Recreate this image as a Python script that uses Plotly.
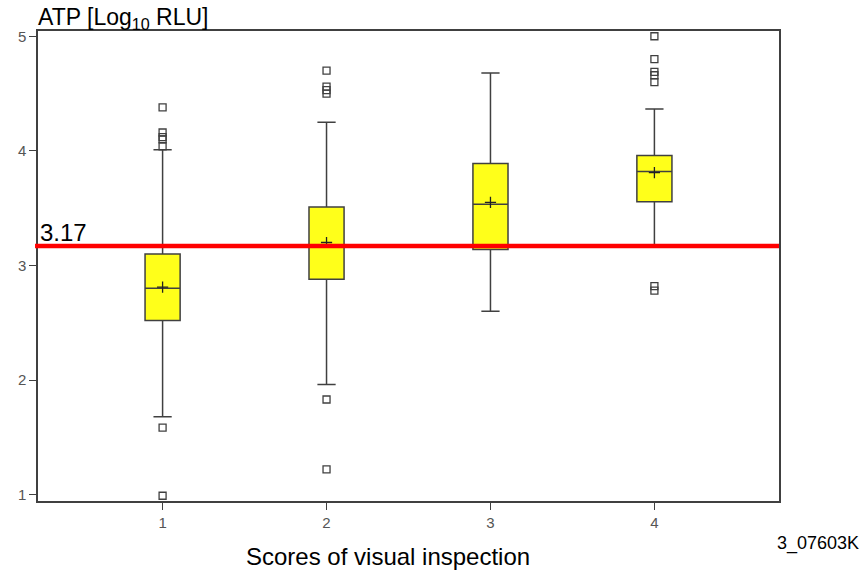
import plotly.graph_objects as go

# ATP readings (log10 RLU) summarised per visual-inspection score
scores = [1, 2, 3, 4]
q1 = [2.52, 2.88, 3.14, 3.555]
medians = [2.80, 3.18, 3.535, 3.82]
q3 = [3.10, 3.51, 3.89, 3.96]
lower_whisker = [1.68, 1.96, 2.60, 3.175]
upper_whisker = [4.01, 4.25, 4.68, 4.365]
means = [2.81, 3.20, 3.55, 3.81]

outliers = {
    1: [4.38, 4.16, 4.12, 4.10, 4.04, 1.585, 0.99],
    2: [4.70, 4.56, 4.53, 4.50, 1.83, 1.22],
    3: [],
    4: [5.00, 4.80, 4.69, 4.66, 4.60, 2.82, 2.78],
}

threshold = 3.17
tick_vals = [1, 2, 3, 4, 5]

GREY = "#404040"
FONT = "Liberation Sans, Arial, sans-serif"

fig = go.Figure()

for i, s in enumerate(scores):
    fig.add_trace(go.Box(
        x=[s], q1=[q1[i]], median=[medians[i]], q3=[q3[i]],
        lowerfence=[lower_whisker[i]], upperfence=[upper_whisker[i]],
        width=0.214, whiskerwidth=0.52,
        fillcolor="#FFFF1A", line=dict(color=GREY, width=1.5),
        boxpoints=False, showlegend=False, hoverinfo="skip",
    ))

# mean markers
fig.add_trace(go.Scatter(
    x=scores, y=means, mode="markers",
    marker=dict(symbol="cross-thin", size=8, line=dict(color="#222222", width=1.3)),
    showlegend=False, hoverinfo="skip",
))

# outliers
ox, oy = [], []
for s in scores:
    for v in outliers[s]:
        ox.append(s)
        oy.append(v)
fig.add_trace(go.Scatter(
    x=ox, y=oy, mode="markers",
    marker=dict(symbol="square-open", size=7, color=GREY, line=dict(color=GREY, width=1.3)),
    showlegend=False, hoverinfo="skip",
))

# threshold line
fig.add_shape(type="line", xref="paper", yref="y", x0=-0.004, x1=1.0,
              y0=threshold, y1=threshold, line=dict(color="#FF0000", width=4.5))

fig.add_annotation(xref="paper", yref="y", x=0, y=threshold, xanchor="left", yanchor="bottom",
                   xshift=0, yshift=-2, text=f"{threshold:.2f}", showarrow=False,
                   font=dict(family=FONT, size=24, color="#000000"))

fig.add_annotation(xref="paper", yref="paper", x=0, y=1, xanchor="left", yanchor="bottom",
                   xshift=-2, yshift=-4, text="ATP [Log<sub>10</sub> RLU]", showarrow=False,
                   font=dict(family=FONT, size=23, color="#000000"))

fig.add_annotation(xref="paper", yref="paper", x=0.472, y=0, xanchor="center", yanchor="middle",
                   yshift=-55, text="Scores of visual inspection", showarrow=False,
                   font=dict(family=FONT, size=24, color="#000000"))

fig.add_annotation(xref="paper", yref="paper", x=1, y=0, xanchor="left", yanchor="middle",
                   xshift=-4, yshift=-42, text="3_07603K", showarrow=False,
                   font=dict(family=FONT, size=18, color="#000000"))

fig.update_layout(
    width=863, height=575,
    margin=dict(l=38, r=84, t=31, b=74),
    paper_bgcolor="white", plot_bgcolor="white",
    font=dict(family=FONT),
    xaxis=dict(range=[0.24, 4.76], tickvals=scores, ticktext=[str(s) for s in scores],
               showgrid=False, zeroline=False, showline=True, mirror=True,
               linecolor=GREY, linewidth=1.5, ticks="outside", ticklen=7,
               tickcolor=GREY, tickwidth=1.3,
               tickfont=dict(size=15, color="#555555")),
    yaxis=dict(range=[0.944, 5.046], tickvals=tick_vals, ticktext=[str(v) for v in tick_vals],
               showgrid=False, zeroline=False, showline=True, mirror=True,
               linecolor=GREY, linewidth=1.5, ticks="outside", ticklen=7,
               tickcolor=GREY, tickwidth=1.3,
               tickfont=dict(size=15, color="#555555")),
)

fig.write_html("out.html")
